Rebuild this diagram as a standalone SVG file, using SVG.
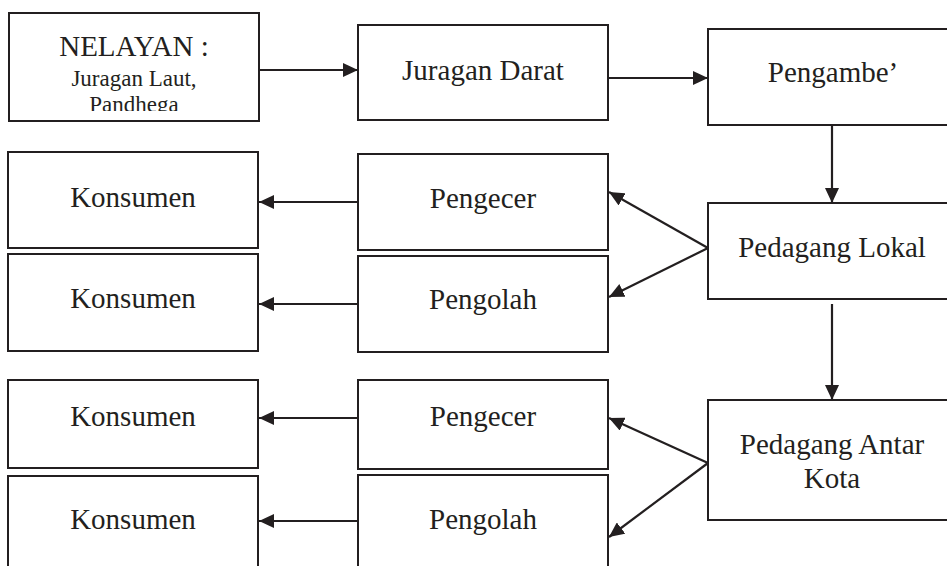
<svg xmlns="http://www.w3.org/2000/svg" width="947" height="566" viewBox="0 0 947 566">
  <style>
    .box { fill: #ffffff; stroke: #231f20; stroke-width: 2; }
    .lbl { font-family: "Liberation Serif", "Times New Roman", serif; font-size: 29px; fill: #231f20; text-anchor: middle; }
    .sub { font-size: 23px; }
    .edge { stroke: #231f20; stroke-width: 2.2; fill: none; marker-end: url(#head); }
  </style>
  <defs>
    <marker id="head" markerUnits="userSpaceOnUse" markerWidth="16" markerHeight="14" refX="15" refY="7" orient="auto">
      <path d="M0,0 L15,7 L0,14 Z" fill="#231f20"/>
    </marker>
    <clipPath id="clip-nelayan">
      <rect x="9" y="13" width="250" height="98"/>
    </clipPath>
  </defs>
  <rect width="947" height="566" fill="#ffffff"/>

  <!-- top row -->
  <g id="nelayan">
    <rect class="box" x="9" y="13" width="250" height="108"/>
    <g clip-path="url(#clip-nelayan)">
      <text class="lbl" x="134" y="56">NELAYAN :</text>
      <text class="lbl sub" x="134" y="86">Juragan Laut,</text>
      <text class="lbl sub" x="134" y="112">Pandhega</text>
    </g>
  </g>
  <g id="juragan-darat">
    <rect class="box" x="358" y="25" width="250" height="95"/>
    <text class="lbl" x="483" y="80">Juragan Darat</text>
  </g>
  <g id="pengambe">
    <rect class="box" x="708" y="29" width="260" height="96"/>
    <text class="lbl" x="833" y="82">Pengambe’</text>
  </g>

  <!-- traders -->
  <g id="pedagang-lokal">
    <rect class="box" x="708" y="203" width="260" height="96"/>
    <text class="lbl" x="832" y="257">Pedagang Lokal</text>
  </g>
  <g id="pedagang-antar-kota">
    <rect class="box" x="708" y="400" width="260" height="120"/>
    <text class="lbl" x="832" y="454">Pedagang Antar</text>
    <text class="lbl" x="832" y="488">Kota</text>
  </g>

  <!-- retail / processing, first group -->
  <g id="pengecer-1">
    <rect class="box" x="358" y="154" width="250" height="96"/>
    <text class="lbl" x="483" y="208">Pengecer</text>
  </g>
  <g id="pengolah-1">
    <rect class="box" x="358" y="256" width="250" height="96"/>
    <text class="lbl" x="483" y="309">Pengolah</text>
  </g>
  <g id="konsumen-1">
    <rect class="box" x="8" y="152" width="250" height="96"/>
    <text class="lbl" x="133" y="207">Konsumen</text>
  </g>
  <g id="konsumen-2">
    <rect class="box" x="8" y="254" width="250" height="97"/>
    <text class="lbl" x="133" y="308">Konsumen</text>
  </g>

  <!-- retail / processing, second group -->
  <g id="pengecer-2">
    <rect class="box" x="358" y="380" width="250" height="89"/>
    <text class="lbl" x="483" y="426">Pengecer</text>
  </g>
  <g id="pengolah-2">
    <rect class="box" x="358" y="475" width="250" height="110"/>
    <text class="lbl" x="483" y="529">Pengolah</text>
  </g>
  <g id="konsumen-3">
    <rect class="box" x="8" y="380" width="250" height="88"/>
    <text class="lbl" x="133" y="426">Konsumen</text>
  </g>
  <g id="konsumen-4">
    <rect class="box" x="8" y="476" width="250" height="110"/>
    <text class="lbl" x="133" y="529">Konsumen</text>
  </g>

  <!-- flows -->
  <g id="connectors">
    <line class="edge" x1="259" y1="70" x2="358" y2="70"/>
    <line class="edge" x1="608" y1="78" x2="708" y2="78"/>
    <line class="edge" x1="832" y1="125" x2="832" y2="203"/>
    <line class="edge" x1="832" y1="304" x2="832" y2="400"/>
    <line class="edge" x1="708" y1="248" x2="609" y2="192"/>
    <line class="edge" x1="708" y1="248" x2="609" y2="297"/>
    <line class="edge" x1="708" y1="463" x2="609" y2="418"/>
    <line class="edge" x1="708" y1="463" x2="609" y2="537"/>
    <line class="edge" x1="358" y1="202" x2="259" y2="202"/>
    <line class="edge" x1="358" y1="304" x2="259" y2="304"/>
    <line class="edge" x1="358" y1="418" x2="259" y2="418"/>
    <line class="edge" x1="358" y1="521" x2="259" y2="521"/>
  </g>
</svg>
